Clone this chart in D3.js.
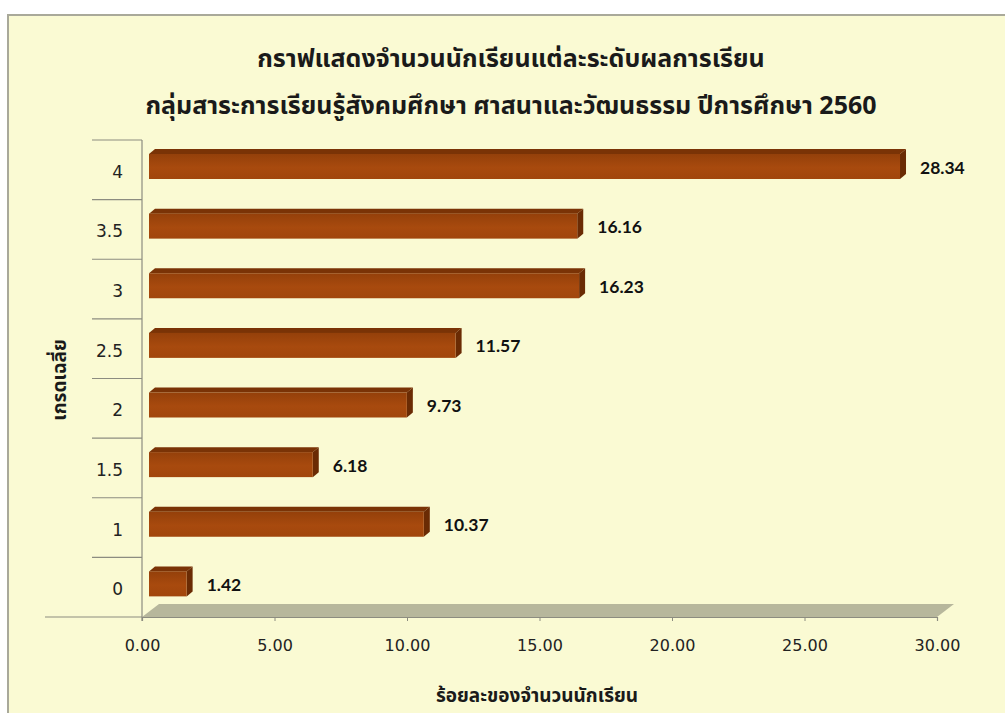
<!DOCTYPE html>
<html><head><meta charset="utf-8">
<script src="https://cdn.jsdelivr.net/npm/d3@7"></script>
<style>
html,body{margin:0;padding:0;background:#fff;}
svg{display:block;}
</style></head>
<body>
<svg id="chart" width="1005" height="713"></svg>
<script>
const titleLines = ["กราฟแสดงจำนวนนักเรียนแต่ละระดับผลการเรียน", "กลุ่มสาระการเรียนรู้สังคมศึกษา ศาสนาและวัฒนธรรม ปีการศึกษา 2560"];
const categories = ["4", "3.5", "3", "2.5", "2", "1.5", "1", "0"];
const values = [28.34, 16.16, 16.23, 11.57, 9.73, 6.18, 10.37, 1.42];
const xTicks = [0, 5, 10, 15, 20, 25, 30];
const xTitle = "ร้อยละของจำนวนนักเรียน";
const yTitle = "เกรดเฉลี่ย";

const svg = d3.select("#chart");
const thaiFont = "Tahoma, 'Noto Sans Thai', 'Noto Sans', 'DejaVu Sans', sans-serif";
const numFont = "'DejaVu Sans', sans-serif";
const labelFont = "Lato, 'Open Sans', sans-serif";

const defs = svg.append("defs");
const grad = defs.append("linearGradient").attr("id", "front").attr("x1", 0).attr("x2", 0).attr("y1", 0).attr("y2", 1);
grad.append("stop").attr("offset", "0%").attr("stop-color", "#94400a");
grad.append("stop").attr("offset", "55%").attr("stop-color", "#a84a0e");
grad.append("stop").attr("offset", "100%").attr("stop-color", "#a1460c");

// panel
svg.append("rect").attr("x", 8).attr("y", 15).attr("width", 1010).attr("height", 710)
  .attr("fill", "#fafad3").attr("stroke", "#a9a99a").attr("stroke-width", 2);

const x = d3.scaleLinear().domain([0, 30]).range([142, 937]);
const y = d3.scaleBand().domain(categories).range([140, 617]);
const bw = y.bandwidth();
const dx = 17, dy = -13;   // floor depth
const bx = 7;              // bar front offset
const ddx = 6, ddy = -5;   // bar depth

// floor
const x0 = x(0), x1 = x(30), yb = 617;
svg.append("path")
  .attr("d", `M${x0},${yb} L${x1},${yb} L${x1 + dx},${yb + dy} L${x0 + dx},${yb + dy} Z`)
  .attr("fill", "#b7b79c");

// y axis line & separators
const g = svg.append("g");
g.append("line").attr("x1", x0).attr("x2", x0).attr("y1", 140).attr("y2", yb + 4)
  .attr("stroke", "#8c8c80").attr("stroke-width", 1.2);
categories.forEach(c => {
  g.append("line").attr("x1", 92).attr("x2", x0).attr("y1", y(c)).attr("y2", y(c))
    .attr("stroke", "#8c8c80").attr("stroke-width", 1.2);
});
g.append("line").attr("x1", 45).attr("x2", x0).attr("y1", yb).attr("y2", yb)
  .attr("stroke", "#8c8c80").attr("stroke-width", 1.2);

// y tick labels
svg.append("g").selectAll("text").data(categories).join("text")
  .attr("x", 123).attr("y", c => y(c) + bw / 2 + 8)
  .attr("text-anchor", "end").attr("font-family", numFont).attr("font-size", 17)
  .attr("fill", "#222").text(c => c);

// x axis
const xAxis = d3.axisBottom(x).tickValues(xTicks).tickFormat(d3.format(".2f")).tickSize(4).tickPadding(19);
const ax = svg.append("g").attr("transform", `translate(0,${yb})`).call(xAxis);
ax.select(".domain").attr("stroke", "#8c8c80").attr("stroke-width", 1.2);
ax.selectAll(".tick line").attr("stroke", "#8c8c80");
ax.selectAll("text").attr("font-family", numFont).attr("font-size", 16).attr("fill", "#222");

// bars
const bars = svg.append("g").selectAll("g").data(categories).join("g");
bars.each(function (c, i) {
  const gb = d3.select(this);
  const top = y(c) + 14, h = 25;
  const l = x(0) + bx, r = x(values[i]) + bx;
  gb.append("path").attr("d", `M${l},${top} L${r},${top} L${r + ddx},${top + ddy} L${l + ddx},${top + ddy} Z`)
    .attr("fill", "#7a3306");
  gb.append("path").attr("d", `M${r},${top} L${r + ddx},${top + ddy} L${r + ddx},${top + h + ddy} L${r},${top + h} Z`)
    .attr("fill", "#6a2b04");
  gb.append("rect").attr("x", l).attr("y", top).attr("width", r - l).attr("height", h)
    .attr("fill", "url(#front)");
  gb.append("text").attr("x", r + ddx + 14).attr("y", top + h / 2 + 7)
    .attr("font-family", labelFont).attr("font-weight", "bold").attr("font-size", 17.5)
    .attr("fill", "#111").text(values[i].toFixed(2));
});

// titles
svg.append("g").selectAll("text").data(titleLines).join("text")
  .attr("x", 511).attr("y", (d, i) => 67 + i * 47)
  .attr("text-anchor", "middle").attr("font-family", thaiFont).attr("font-weight", "bold")
  .attr("font-size", 25).attr("fill", "#1a1a1a").text(d => d);

svg.append("text").attr("x", 537).attr("y", 702).attr("text-anchor", "middle")
  .attr("font-family", thaiFont).attr("font-weight", "bold").attr("font-size", 19)
  .attr("fill", "#1a1a1a").text(xTitle);

svg.append("text").attr("transform", "translate(66,380) rotate(-90)").attr("text-anchor", "middle")
  .attr("font-family", thaiFont).attr("font-weight", "bold").attr("font-size", 19)
  .attr("fill", "#1a1a1a").text(yTitle);
</script>
</body></html>
